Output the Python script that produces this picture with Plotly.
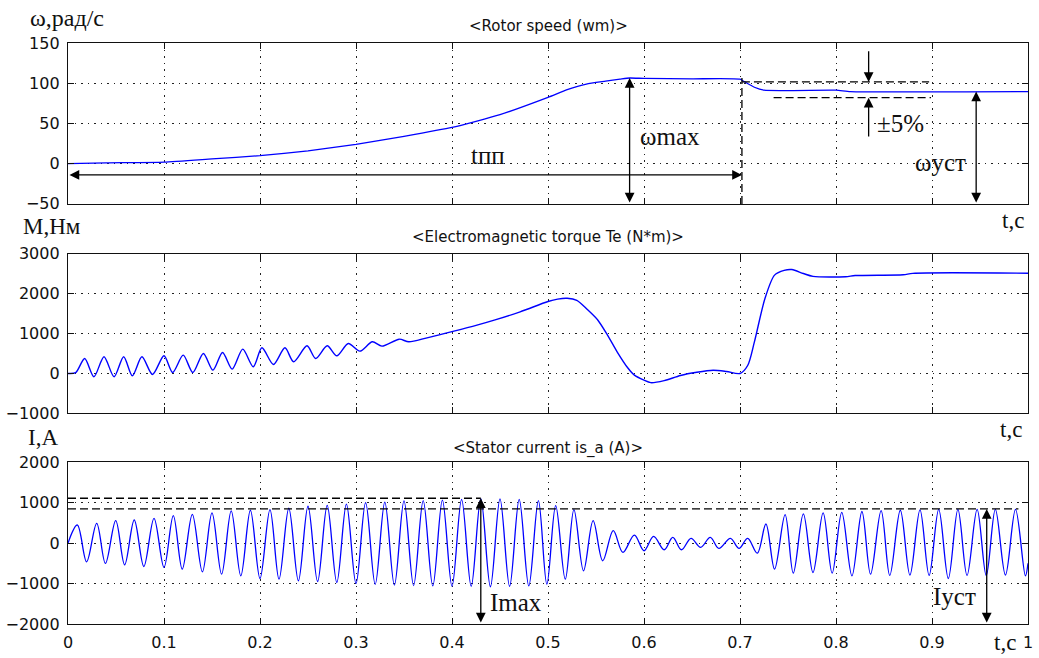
import plotly.graph_objects as go

# ---------------- data ----------------
speed_t = [0, 0.04, 0.1, 0.15, 0.2, 0.25, 0.3, 0.35, 0.4, 0.45, 0.5, 0.52, 0.54, 0.56,
           0.575, 0.585, 0.6, 0.65, 0.7, 0.705, 0.715, 0.725, 0.8, 0.815, 1.0]
speed_v = [0, 1, 2, 6, 10, 16, 24, 34, 45, 61, 82.5, 92, 99, 102.5,
           105, 106.5, 106, 105.5, 105, 101.6, 95, 91.3, 91.3, 89.6, 89.6]

torque_t = [0, 0.008, 0.0174, 0.027, 0.0375, 0.048, 0.058, 0.067, 0.077, 0.088, 0.1, 0.109,
            0.12, 0.13, 0.141, 0.151, 0.161, 0.171, 0.182, 0.193, 0.202, 0.214, 0.226, 0.235,
            0.249, 0.258, 0.27, 0.28, 0.292, 0.304, 0.317, 0.327, 0.345, 0.355, 0.374, 0.402,
            0.426, 0.444, 0.471, 0.5, 0.51, 0.52, 0.53, 0.541, 0.552, 0.562, 0.572, 0.583,
            0.59, 0.6, 0.607, 0.621, 0.638, 0.655, 0.672, 0.686, 0.7, 0.708, 0.715, 0.726,
            0.736, 0.746, 0.754, 0.766, 0.776, 0.81, 0.82, 0.87, 0.88, 1.0]
torque_v = [0, 20, 375, -83, 417, -83, 417, -58, 417, -25, 442, 25,
            458, 25, 500, 83, 525, 108, 608, 167, 642, 225, 642, 292,
            692, 375, 692, 442, 750, 558, 792, 683, 858, 792, 892, 1058,
            1208, 1333, 1542, 1800, 1860, 1880, 1830, 1600, 1333, 958, 542, 142,
            -42, -167, -230, -180, -50, 30, 80, 50, 0, 200, 790, 1875,
            2460, 2580, 2600, 2500, 2430, 2420, 2450, 2470, 2505, 2508]

cur_t = [0, 0.0097, 0.0194, 0.0299, 0.039, 0.0497, 0.059, 0.069, 0.079, 0.0896,
         0.1, 0.1097, 0.119, 0.1295, 0.14, 0.15, 0.16, 0.17, 0.18, 0.19,
         0.2, 0.2104, 0.2198, 0.23, 0.24, 0.25, 0.26, 0.27, 0.28, 0.29,
         0.3, 0.31, 0.32, 0.33, 0.34, 0.35, 0.36, 0.37, 0.38, 0.39,
         0.4, 0.41, 0.42, 0.43, 0.44, 0.45, 0.46, 0.47, 0.48, 0.49,
         0.4988, 0.508, 0.518, 0.527, 0.537, 0.547, 0.557, 0.568, 0.578, 0.59,
         0.6, 0.61, 0.621, 0.63, 0.639, 0.649, 0.659, 0.669, 0.678, 0.69,
         0.699, 0.708, 0.718, 0.727, 0.736, 0.747, 0.7555, 0.766, 0.776, 0.7866,
         0.796, 0.806, 0.8166, 0.827, 0.836, 0.847, 0.856, 0.867, 0.877, 0.8875,
         0.897, 0.907, 0.917, 0.927, 0.9365, 0.947, 0.9565, 0.966, 0.9765, 0.987,
         0.9973, 1.0]
cur_v = [0, 446, -463, 488, -504, 554, -537, 570, -579, 612,
         -603, 678, -645, 711, -711, 744, -769, 793, -810, 810,
         -876, 826, -893, 860, -934, 909, -950, 930, -975, 960,
         -1000, 1000, -1020, 1010, -1040, 1040, -1050, 1050, -1060, 1060,
         -1070, 1080, -1070, 1100, -1080, 1090, -1070, 1080, -1060, 1050,
         -1017, 925, -893, 826, -686, 554, -438, 306, -231, 198,
         -190, 165, -165, 140, -165, 116, -107, 140, -132, 116,
         -132, 116, -248, 471, -645, 700, -744, 719, -727, 744,
         -744, 760, -810, 780, -769, 800, -800, 810, -790, 820,
         -800, 830, -876, 830, -800, 830, -800, 830, -790, 830,
         -810, -500]

x_ticks = [0, 0.1, 0.2, 0.3, 0.4, 0.5, 0.6, 0.7, 0.8, 0.9, 1.0]
x_tick_labels = ["0", "0.1", "0.2", "0.3", "0.4", "0.5", "0.6", "0.7", "0.8", "0.9", "1"]
speed_ticks = [-50, 0, 50, 100, 150]
torque_ticks = [-1000, 0, 1000, 2000, 3000]
cur_ticks = [-2000, -1000, 0, 1000, 2000]

# annotation values
t_pp = 0.702
t_pp_level = -14
omega_max = 106.5
t_omega_max = 0.585
omega_ust = 89.6
t_omega_ust = 0.946
band_hi = 101.6
band_lo = 82
t_band = 0.834
I_max = 1107
t_I_max = 0.43
I_ust = 843
t_I_ust = 0.957

# ---------------- layout helpers ----------------
W, H = 1039, 658
ML, MR, MT, MB = 67, 6, 43, 30
PW = W - ML - MR
PH = H - MT - MB


def pxp(x):
    return (x - ML) / PW


def pyp(y):
    return (H - MB - y) / PH


BLUE = "#0000ff"
SANS = "DejaVu Sans"
SERIF = "Liberation Serif"

fig = go.Figure()
fig.add_trace(go.Scatter(x=speed_t, y=speed_v, xaxis="x", yaxis="y", mode="lines",
                         line=dict(color=BLUE, width=1.3, shape="spline", smoothing=0.5)))
fig.add_trace(go.Scatter(x=torque_t, y=torque_v, xaxis="x2", yaxis="y2", mode="lines",
                         line=dict(color=BLUE, width=1.4, shape="spline", smoothing=0.8)))
fig.add_trace(go.Scatter(x=cur_t, y=cur_v, xaxis="x3", yaxis="y3", mode="lines",
                         line=dict(color=BLUE, width=1.3, shape="spline", smoothing=1.0)))

common = dict(showline=True, linecolor="#111", linewidth=1.3, mirror="ticks",
              ticks="inside", ticklen=6, tickwidth=1.3, tickcolor="#111",
              showgrid=True, gridcolor="#222", gridwidth=1, griddash="1.5px,5px",
              zeroline=False, tickfont=dict(family=SANS, size=16, color="#111"))

xcommon = dict(common, range=[0, 1], tickvals=x_ticks, ticktext=x_tick_labels)

fig.update_layout(
    width=W, height=H,
    margin=dict(l=ML, r=MR, t=MT, b=MB),
    paper_bgcolor="white", plot_bgcolor="white",
    showlegend=False,
    xaxis=dict(xcommon, anchor="y", domain=[0, 1], showticklabels=False),
    xaxis2=dict(xcommon, anchor="y2", domain=[0, 1], showticklabels=False),
    xaxis3=dict(xcommon, anchor="y3", domain=[0, 1], ticklabelstandoff=4),
    yaxis=dict(common, anchor="x", domain=[pyp(205), 1], range=[-50, 150],
               tickvals=speed_ticks, ticklabelstandoff=4),
    yaxis2=dict(common, anchor="x2", domain=[pyp(416), pyp(255)], range=[-1000, 3000],
                tickvals=torque_ticks, ticklabelstandoff=4),
    yaxis3=dict(common, anchor="x3", domain=[0, pyp(465)], range=[-2000, 2000],
                tickvals=cur_ticks, ticklabelstandoff=4),
)

DASH = "8px,4px"
shapes = [
    dict(type="line", xref="x", yref="y", x0=t_pp, x1=t_pp, y0=-50, y1=omega_max,
         line=dict(color="black", width=1.3, dash=DASH)),
    dict(type="line", xref="x", yref="y", x0=t_pp, x1=0.897, y0=band_hi, y1=band_hi,
         line=dict(color="black", width=1.3, dash=DASH)),
    dict(type="line", xref="x", yref="y", x0=0.735, x1=0.899, y0=band_lo, y1=band_lo,
         line=dict(color="black", width=1.3, dash=DASH)),
    dict(type="line", xref="x3", yref="y3", x0=0, x1=t_I_max, y0=I_max, y1=I_max,
         line=dict(color="black", width=1.3, dash=DASH)),
    dict(type="line", xref="x3", yref="y3", x0=0, x1=0.99, y0=I_ust, y1=I_ust,
         line=dict(color="black", width=1.3, dash=DASH)),
]
fig.update_layout(shapes=shapes)


def arrow(xr, yr, x0, y0, x1, y1, both=True):
    return dict(xref=xr, yref=yr, axref=xr, ayref=yr, x=x1, y=y1, ax=x0, ay=y0,
                text="", showarrow=True, arrowhead=2, arrowsize=1.5, arrowwidth=1.3,
                arrowcolor="black", arrowside="end+start" if both else "end", standoff=0,
                startstandoff=0)


def txt(text, x, y, xr="paper", yr="paper", xanchor="left", size=25, family=SERIF,
        color="#111"):
    return dict(text=text, x=x, y=y, xref=xr, yref=yr, xanchor=xanchor, yanchor="middle",
                showarrow=False, font=dict(family=family, size=size, color=color))


ann = [
    # arrows in speed plot
    arrow("x", "y", 0, t_pp_level, t_pp, t_pp_level),
    arrow("x", "y", t_omega_max, -50, t_omega_max, omega_max),
    arrow("x", "y", t_omega_ust, -50, t_omega_ust, omega_ust),
    arrow("x", "y", t_band, 141.6, t_band, band_hi, both=False),
    arrow("x", "y", t_band, 32, t_band, band_lo, both=False),
    # arrows in current plot
    arrow("x3", "y3", t_I_max, -2000, t_I_max, I_max),
    arrow("x3", "y3", t_I_ust, -2000, t_I_ust, I_ust),
    # in-plot labels
    txt("tпп", 0.438, 10.4, "x", "y", xanchor="center"),
    txt("ωmax", 0.594, 33.4, "x", "y"),
    txt("±5%", 0.841, 50, "x", "y"),
    txt("ωуст", 0.880, 2, "x", "y"),
    txt("Imax", 0.4375, -1471, "x3", "y3"),
    txt("Iуст", 0.948, -1323, "x3", "y3", xanchor="right"),
    # axis unit labels
    txt("ω,рад/с", pxp(27), pyp(18), size=24),
    txt("M,Нм", pxp(20), pyp(228), size=23),
    txt("I,A", pxp(25), pyp(440), size=23),
    txt("t,c", pxp(1031), pyp(222), xanchor="right", size=23),
    txt("t,c", pxp(1029), pyp(432), xanchor="right", size=23),
    txt("t,c", pxp(1023), pyp(647), xanchor="right", size=23),
    # titles
    txt("&lt;Rotor speed (wm)&gt;", 0.5, pyp(26), xanchor="center", size=15, family=SANS),
    txt("&lt;Electromagnetic torque Te (N*m)&gt;", 0.5, pyp(238), xanchor="center", size=15,
        family=SANS),
    txt("&lt;Stator current is_a (A)&gt;", 0.5, pyp(451), xanchor="center", size=15,
        family=SANS),
]
fig.update_layout(annotations=ann)

fig.write_html("out.html")
